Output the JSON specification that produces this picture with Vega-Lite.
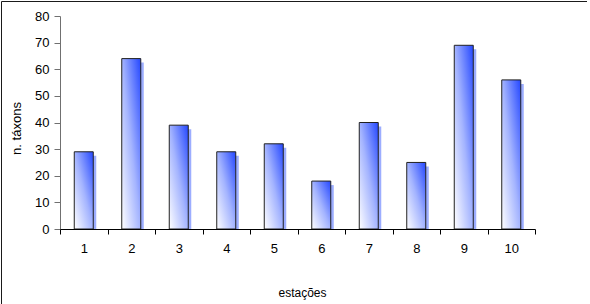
{
  "$schema": "https://vega.github.io/schema/vega-lite/v6.json",
  "width": 586,
  "height": 305,
  "padding": {"left": 1, "top": 1, "right": 0, "bottom": 0},
  "autosize": {"type": "none"},
  "background": "#ffffff",
  "config": {
    "view": {"stroke": "#1a1a1a", "strokeWidth": 1},
    "font": "Liberation Sans",
    "axis": {
      "labelFont": "Liberation Sans",
      "titleFont": "Liberation Sans",
      "labelFontSize": 13,
      "titleFontSize": 13,
      "titleFontWeight": "normal",
      "labelColor": "#000000",
      "titleColor": "#000000",
      "grid": false
    }
  },
  "data": {
    "values": [
      {"estacao": "1", "taxons": 29},
      {"estacao": "2", "taxons": 64},
      {"estacao": "3", "taxons": 39},
      {"estacao": "4", "taxons": 29},
      {"estacao": "5", "taxons": 32},
      {"estacao": "6", "taxons": 18},
      {"estacao": "7", "taxons": 40},
      {"estacao": "8", "taxons": 25},
      {"estacao": "9", "taxons": 69},
      {"estacao": "10", "taxons": 56}
    ]
  },
  "encoding": {
    "x": {
      "field": "estacao",
      "type": "nominal",
      "sort": null,
      "scale": {
        "type": "band",
        "domain": ["1", "2", "3", "4", "5", "6", "7", "8", "9", "10"],
        "range": [59, 534],
        "paddingInner": 0,
        "paddingOuter": 0
      },
      "axis": {
        "orient": "bottom",
        "offset": -77,
        "labelAngle": 0,
        "tickBand": "extent",
        "tickSize": 5,
        "labelPadding": 8,
        "domainColor": "#000000",
        "tickColor": "#000000",
        "title": "estações",
        "titleFontSize": 12,
        "titleX": 301,
        "titleY": 67,
        "titleBaseline": "alphabetic"
      }
    },
    "y": {
      "field": "taxons",
      "type": "quantitative",
      "scale": {"domain": [0, 80], "range": [228, 15], "nice": false, "zero": true},
      "axis": {
        "orient": "left",
        "offset": -59,
        "values": [0, 10, 20, 30, 40, 50, 60, 70, 80],
        "labelOverlap": false,
        "tickSize": 6,
        "labelPadding": 5,
        "domainColor": "#707070",
        "tickColor": "#707070",
        "title": "n. táxons",
        "titleX": -40,
        "titleY": 127,
        "titleBaseline": "alphabetic"
      }
    }
  },
  "layer": [
    {
      "data": {"values": [{}]},
      "mark": {"type": "rect", "fill": null, "stroke": "#a0a0a0", "strokeWidth": 1},
      "encoding": {
        "x": {"datum": "1", "bandPosition": 0, "type": "nominal"},
        "x2": {"datum": "10", "bandPosition": 1},
        "y": {"datum": 80, "type": "quantitative"},
        "y2": {"datum": 0}
      }
    },
    {
      "mark": {
        "type": "bar",
        "width": {"band": 0.4},
        "color": "#3a5cff",
        "opacity": 0.5,
        "xOffset": 3,
        "yOffset": 4,
        "y2Offset": 0
      },
      "encoding": {
        "y2": {"datum": 0}
      }
    },
    {
      "mark": {
        "type": "bar",
        "width": {"band": 0.4},
        "stroke": "#202020",
        "strokeWidth": 1,
        "fill": {
          "gradient": "linear",
          "x1": 0, "y1": 1, "x2": 1, "y2": 0,
          "stops": [
            {"offset": 0, "color": "#ffffff"},
            {"offset": 0.5, "color": "#a4b4ff"},
            {"offset": 1, "color": "#2447ff"}
          ]
        }
      }
    }
  ]
}
